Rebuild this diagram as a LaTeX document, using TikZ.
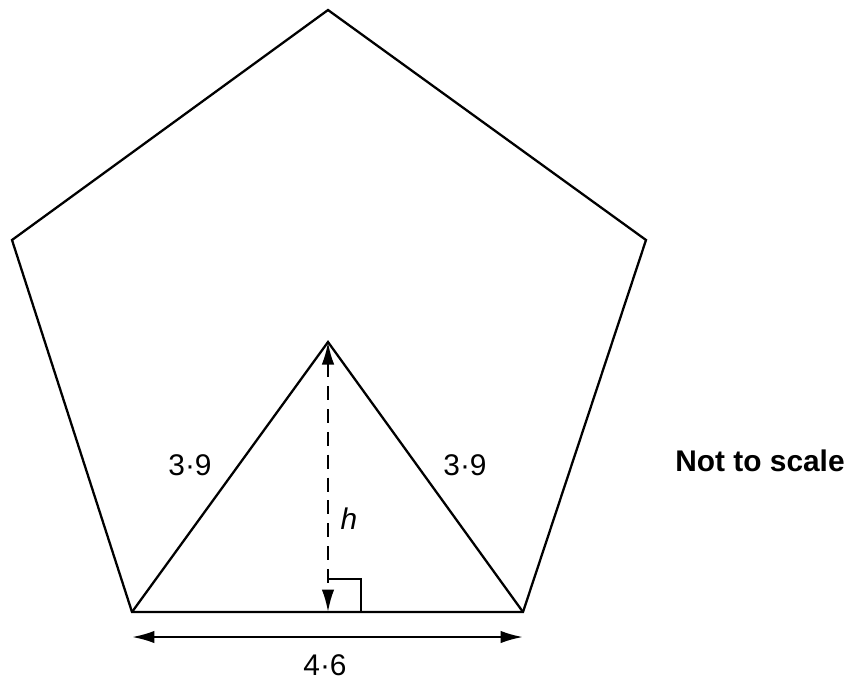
\documentclass[tikz,border=0pt]{standalone}
\usepackage{fontspec}
\setmainfont{Liberation Sans}
\usepackage{tikz}
\usetikzlibrary{arrows.meta}

\begin{document}
\begin{tikzpicture}[
    x=0.02cm, y=-0.02cm,
    edge/.style={line width=1.3pt, line join=miter},
    dimarrow/.style={line width=1.3pt, {Latex[length=0.45cm, width=0.25cm]}-{Latex[length=0.45cm, width=0.25cm]}},
    lbl/.style={inner sep=0pt, font=\fontsize{17}{20}\selectfont}
]
\useasboundingbox (0,0) rectangle (858,684);
% pentagon corners
\coordinate (top) at (328,10);
\coordinate (ul) at (12,240);
\coordinate (ur) at (646,240);
\coordinate (bl) at (132,612);
\coordinate (br) at (523,612);
% triangle apex and foot of h
\coordinate (apex) at (328,342);
\coordinate (foot) at (328,612);
\draw[edge] (top) -- (ur) -- (br) -- (bl) -- (ul) -- cycle;
\draw[edge] (bl) -- (apex) -- (br);
\draw[dimarrow, dashed, dash pattern=on 8pt off 5pt] (apex) -- (foot);
\draw[line width=1.3pt] (foot) ++(0,-33) -- ++(33,0) -- ++(0,33);
\coordinate (dl) at (132,637);
\coordinate (dr) at (523,637);
\draw[dimarrow] (dl) -- (dr);
\node[lbl] (sideL) at (190,465) {3·9};
\node[lbl] (sideR) at (465,465) {3·9};
\node[lbl] (hgt) at (349,519) {\itshape h};
\node[lbl] (base) at (325,665) {4·6};
\node[lbl, font=\fontsize{17}{20}\selectfont\bfseries] (note) at (760,461) {Not to scale};
\end{tikzpicture}
\end{document}
